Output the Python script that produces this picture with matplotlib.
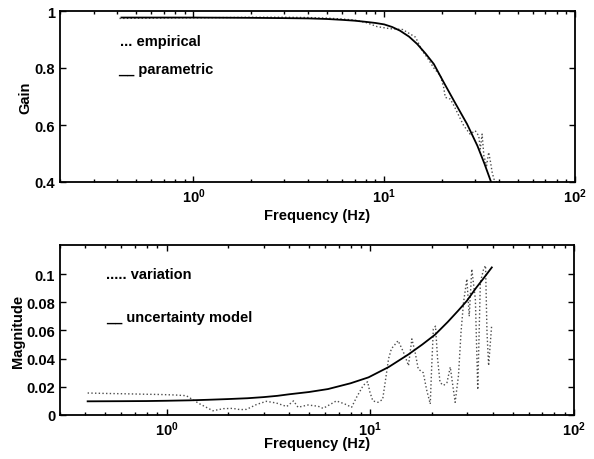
import matplotlib
matplotlib.use("Agg")
import matplotlib.pyplot as plt
from matplotlib.ticker import FixedLocator, FixedFormatter, LogLocator, NullFormatter

plt.rcParams['font.family'] = ['Liberation Sans', 'DejaVu Sans']

# ---- top panel: gain ----
freq_param = [0.42, 1.0, 2.0, 3.0, 4.0, 5.0, 6.0, 7.0, 8.0, 9.0, 10.0, 11.0, 12.1,
              13.5, 14.9, 16.5, 18.2, 20.5, 23.2, 27.2, 30.8, 33.5, 36.1, 36.3]
gain_param = [0.977, 0.977, 0.976, 0.975, 0.974, 0.972, 0.969, 0.966, 0.962, 0.958,
              0.953, 0.944, 0.931, 0.910, 0.884, 0.850, 0.814, 0.750, 0.685, 0.603,
              0.527, 0.465, 0.405, 0.400]

freq_emp = [0.41, 0.6, 0.8, 1.0, 1.5, 2.0, 3.0, 4.0, 5.0, 6.0, 7.0, 8.0, 9.2, 10.7,
            12.5, 14.6, 15.8, 16.8, 18.2, 19.7, 20.5, 20.9, 22.2, 23.2, 25.1, 26.1,
            28.2, 30.0, 31.3, 31.9, 32.6, 33.3, 34.4, 35.3, 36.1, 36.8, 37.6, 39.0]
gain_emp = [0.974, 0.975, 0.976, 0.976, 0.977, 0.978, 0.978, 0.977, 0.975, 0.972,
            0.968, 0.960, 0.945, 0.938, 0.935, 0.908, 0.861, 0.837, 0.800, 0.773,
            0.732, 0.697, 0.691, 0.668, 0.621, 0.598, 0.568, 0.580, 0.562, 0.516,
            0.568, 0.492, 0.457, 0.504, 0.469, 0.434, 0.410, 0.400]

# ---- bottom panel: magnitude ----
freq_model = [0.41, 0.6, 0.8, 1.0, 1.3, 1.6, 2.0, 2.5, 3.0, 3.5, 4.0, 5.0, 6.2, 8.0,
              9.8, 12.3, 15.4, 18.0, 20.8, 24.0, 27.0, 29.8, 33.0, 36.0, 39.5]
mag_model = [0.0097, 0.0098, 0.0099, 0.0101, 0.0104, 0.0108, 0.0113, 0.0119, 0.0127,
             0.0136, 0.0147, 0.0163, 0.0184, 0.0225, 0.0267, 0.034, 0.043, 0.050,
             0.057, 0.066, 0.074, 0.081, 0.090, 0.097, 0.1047]

freq_var = [0.41, 0.5, 0.6, 0.7, 0.8, 0.9, 1.0, 1.1, 1.25, 1.45, 1.69, 1.9, 2.11, 2.3,
            2.47, 2.77, 3.09, 3.46, 3.89, 4.2, 4.42, 4.95, 5.55, 5.87, 6.82, 7.5, 8.1,
            8.56, 9.24, 9.7, 9.97, 10.3, 10.9, 11.5, 11.9, 12.3, 12.7, 13.7, 14.3,
            14.8, 15.4, 16.0, 16.6, 17.2, 18.2, 18.9, 19.7, 20.0, 20.4, 20.9, 21.4,
            22.0, 22.9, 23.8, 24.7, 25.3, 26.1, 27.1, 27.9, 28.7, 29.8, 30.6, 31.5,
            32.8, 33.7, 34.7, 36.0, 36.8, 37.4, 38.1, 39.4]
mag_var = [0.0156, 0.0153, 0.0151, 0.0149, 0.0147, 0.0146, 0.0144, 0.0142, 0.0137,
           0.008, 0.003, 0.0045, 0.0047, 0.0038, 0.004, 0.0075, 0.0097, 0.0085, 0.006,
           0.010, 0.0055, 0.0071, 0.0062, 0.0047, 0.010, 0.0078, 0.0055, 0.0125, 0.021,
           0.0236, 0.016, 0.010, 0.009, 0.011, 0.0255, 0.040, 0.047, 0.0527, 0.047,
           0.042, 0.035, 0.054, 0.0445, 0.0326, 0.030, 0.018, 0.0078, 0.0326, 0.061,
           0.063, 0.040, 0.023, 0.021, 0.023, 0.034, 0.023, 0.009, 0.028, 0.059,
           0.080, 0.0965, 0.070, 0.1035, 0.082, 0.018, 0.094, 0.1035, 0.106, 0.059,
           0.035, 0.063]

top_yticks = [0.4, 0.6, 0.8, 1.0]
top_ylabels = ['0.4', '0.6', '0.8', '1']
bot_yticks = [0, 0.02, 0.04, 0.06, 0.08, 0.1]
bot_ylabels = ['0', '0.02', '0.04', '0.06', '0.08', '0.1']

W, H = 594, 460
fig = plt.figure(figsize=(W / 100, H / 100), dpi=100)
ax1 = fig.add_axes([60 / W, 1 - 183 / H, 515 / W, 171 / H])
ax2 = fig.add_axes([60 / W, 1 - 416 / H, 514 / W, 170 / H])

FS = 10.5
WT = 'bold'

def style(ax):
    ax.set_xscale('log')
    for s in ax.spines.values():
        s.set_linewidth(1.3)
    ax.tick_params(which='both', direction='in', top=True, right=True,
                   labelsize=FS, width=1.0)
    ax.tick_params(which='major', length=4)
    ax.tick_params(which='minor', length=2.5)
    ax.xaxis.set_minor_locator(LogLocator(base=10, subs=range(2, 10)))
    ax.xaxis.set_minor_formatter(NullFormatter())
    for lab in ax.get_xticklabels() + ax.get_yticklabels():
        lab.set_fontweight(WT)

ax1.plot(freq_emp, gain_emp, linestyle=':', color='0.3', linewidth=1.0)
ax1.plot(freq_param, gain_param, linestyle='-', color='black', linewidth=1.3)
ax1.set_xlim(0.2, 100)
ax1.set_ylim(0.4, 1.0)
ax1.yaxis.set_major_locator(FixedLocator(top_yticks))
ax1.yaxis.set_major_formatter(FixedFormatter(top_ylabels))
style(ax1)
ax1.set_ylabel('Gain', fontsize=FS, fontweight=WT)
ax1.yaxis.set_label_coords(-0.054, 0.5)
ax1.set_xlabel('Frequency (Hz)', fontsize=FS, fontweight=WT)
ax1.xaxis.label.set_verticalalignment('center')
ax1.xaxis.set_label_coords(0.5, -0.193)
ax1.text(0.1165, 0.825, '... empirical', transform=ax1.transAxes, fontsize=FS,
         fontweight=WT, va='center', ha='left')
ax1.text(0.113, 0.66, '__ parametric', transform=ax1.transAxes, fontsize=FS,
         fontweight=WT, va='center', ha='left')

ax2.plot(freq_var, mag_var, linestyle=':', color='0.3', linewidth=1.0)
ax2.plot(freq_model, mag_model, linestyle='-', color='black', linewidth=1.3)
ax2.set_xlim(0.3, 100)
ax2.set_ylim(0, 0.1206)
ax2.yaxis.set_major_locator(FixedLocator(bot_yticks))
ax2.yaxis.set_major_formatter(FixedFormatter(bot_ylabels))
style(ax2)
ax2.set_ylabel('Magnitude', fontsize=FS, fontweight=WT)
ax2.yaxis.set_label_coords(-0.068, 0.5)
ax2.set_xlabel('Frequency (Hz)', fontsize=FS, fontweight=WT)
ax2.xaxis.label.set_verticalalignment('center')
ax2.xaxis.set_label_coords(0.5, -0.162)
ax2.text(0.089, 0.83, '..... variation', transform=ax2.transAxes, fontsize=FS,
         fontweight=WT, va='center', ha='left')
ax2.text(0.089, 0.576, '__ uncertainty model', transform=ax2.transAxes, fontsize=FS,
         fontweight=WT, va='center', ha='left')

fig.savefig('out.png', dpi=100)
